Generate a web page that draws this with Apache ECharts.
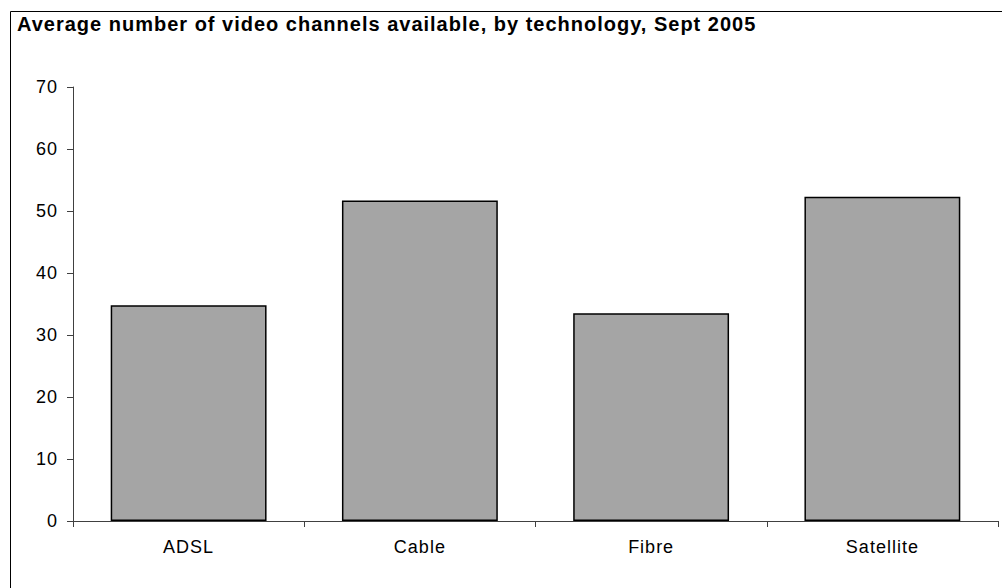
<!DOCTYPE html>
<html>
<head>
<meta charset="utf-8">
<title>Average number of video channels available, by technology, Sept 2005</title>
<script src="https://cdn.jsdelivr.net/npm/echarts@6/dist/echarts.min.js"></script>
<style>
  html, body { margin: 0; padding: 0; background: #ffffff; }
  #chart { width: 1002px; height: 588px; }
  /* spread the glyphs slightly, like the original spreadsheet export */
  #chart text { letter-spacing: 1px; }
</style>
</head>
<body>
<div id="chart"></div>
<script>
// Technologies and their average channel counts (Sept 2005)
const categories = ['ADSL', 'Cable', 'Fibre', 'Satellite'];
const channelCounts = [34.8, 51.7, 33.5, 52.3];
const titleText = 'Average number of video channels available, by technology, Sept 2005';

const chart = echarts.init(document.getElementById('chart'), null, { renderer: 'svg' });

const fontFamily = '"Liberation Sans", Arial, Helvetica, sans-serif';
const axisColor = '#404040';

chart.setOption({
  backgroundColor: '#ffffff',
  animation: false,
  title: {
    text: titleText,
    left: 12,
    top: 14,
    padding: [0, 5],
    textStyle: {
      fontFamily: fontFamily,
      fontWeight: 'bold',
      fontSize: 20,
      color: '#000000'
    }
  },
  graphic: [{
    // frame around the chart (runs off the right and bottom edges)
    type: 'rect',
    silent: true,
    shape: { x: 10.5, y: 11.5, width: 1200, height: 800 },
    style: { fill: 'none', stroke: '#000000', lineWidth: 1 }
  }],
  grid: {
    left: 73,
    right: 4,
    top: 87,
    bottom: 67,
    containLabel: false
  },
  xAxis: {
    type: 'category',
    data: categories,
    boundaryGap: true,
    axisLine: { show: true, lineStyle: { color: axisColor, width: 1 } },
    axisTick: {
      show: true,
      alignWithLabel: false,
      inside: false,
      length: 6,
      lineStyle: { color: axisColor, width: 1 }
    },
    axisLabel: {
      margin: 17,
      fontFamily: fontFamily,
      fontSize: 18,
      color: '#000000'
    },
    splitLine: { show: false }
  },
  yAxis: {
    type: 'value',
    min: 0,
    max: 70,
    interval: 10,
    axisLine: { show: true, lineStyle: { color: axisColor, width: 1 } },
    axisTick: {
      show: true,
      inside: false,
      length: 6,
      lineStyle: { color: axisColor, width: 1 }
    },
    axisLabel: {
      margin: 15,
      fontFamily: fontFamily,
      fontSize: 18,
      color: '#000000'
    },
    splitLine: { show: false }
  },
  series: [{
    type: 'bar',
    data: channelCounts,
    barCategoryGap: '32.6%',
    itemStyle: {
      color: '#a5a5a5',
      borderColor: '#000000',
      borderWidth: 1.5
    },
    emphasis: { disabled: true }
  }]
});
</script>
</body>
</html>
